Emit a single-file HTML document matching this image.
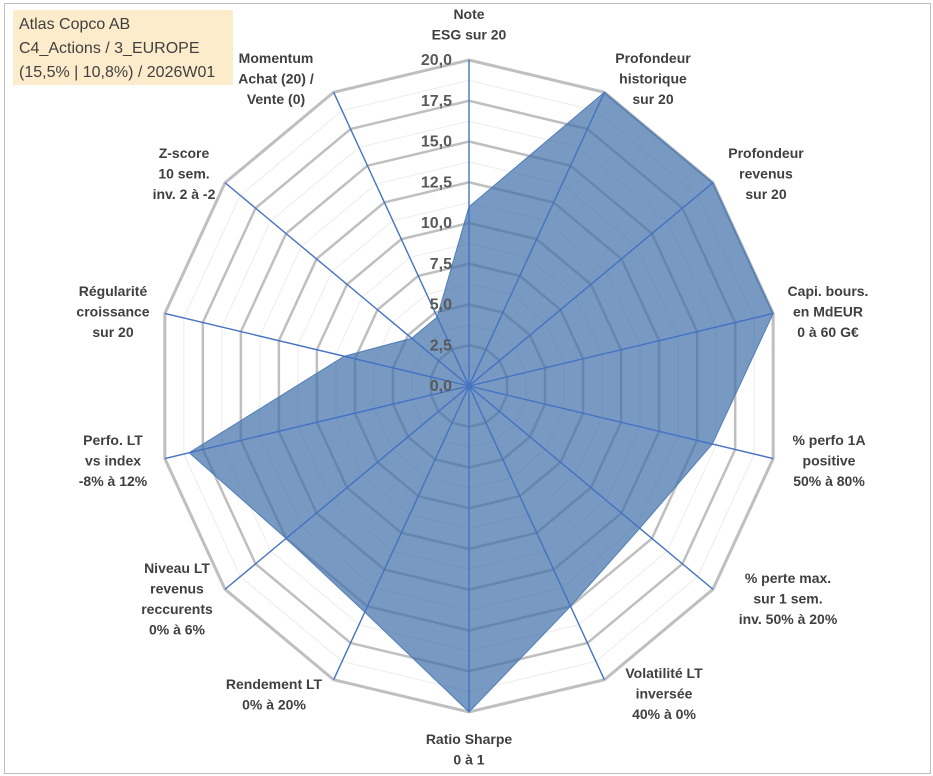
<!DOCTYPE html>
<html><head><meta charset="utf-8"><style>
html,body{margin:0;padding:0;background:#fff;}
#wrap{position:relative;width:933px;height:776px;overflow:hidden;font-family:"Liberation Sans",sans-serif;}
#frame{position:absolute;left:4px;top:3px;width:927px;height:771px;border:1px solid #bfbfbf;box-sizing:border-box;}
#title{position:absolute;left:13px;top:10px;width:220px;height:75px;background:#fdeccb;color:#404040;font-size:16px;line-height:24px;padding:3px 0 0 6px;box-sizing:border-box;white-space:nowrap;}
svg{position:absolute;left:0;top:0;}
</style></head><body>
<div id="wrap">
<div id="frame"></div>
<svg id="chart" width="933" height="776"></svg>
<div id="title">Atlas Copco AB<br>C4_Actions / 3_EUROPE<br>(15,5% | 10,8%) / 2026W01</div>
</div>
<script>
const categories = [
 ["Note","ESG sur 20"],["Profondeur","historique","sur 20"],["Profondeur","revenus","sur 20"],
 ["Capi. bours.","en MdEUR","0 à 60 G€"],["% perfo 1A","positive","50% à 80%"],
 ["% perte max.","sur 1 sem.","inv. 50% à 20%"],["Volatilité LT","inversée","40% à 0%"],
 ["Ratio Sharpe","0 à 1"],["Rendement LT","0% à 20%"],["Niveau LT","revenus","reccurents","0% à 6%"],
 ["Perfo. LT","vs index","-8% à 12%"],["Régularité","croissance","sur 20"],
 ["Z-score","10 sem.","inv. 2 à -2"],["Momentum","Achat (20) /","Vente (0)"]
];
const values = [11, 20, 20, 20, 16, 14, 15, 20, 15.4, 15, 18.4, 8.2, 4.7, 4.7];
const tickValues = [0, 2.5, 5, 7.5, 10, 12.5, 15, 17.5, 20];
const tickLabels = ["0,0","2,5","5,0","7,5","10,0","12,5","15,0","17,5","20,0"];
const maxVal = 20;
const cx = 469, cy = 386, rx = 312, ry = 326;
const labelPos = [[469,14],[653,58],[766,153],[828,291],[829,440],[788,578],[664,673],[469,739],[274,684],[177,568],[113,440],[113,291],[184,153],[276,58]];
const svg = document.getElementById('chart');
const NS = 'http://www.w3.org/2000/svg';
const n = categories.length;
function pt(i, v){const a = 2*Math.PI*i/n; const t = v/maxVal; return [cx + rx*t*Math.sin(a), cy - ry*t*Math.cos(a)];}
function poly(v){let s=[];for(let i=0;i<n;i++){s.push(pt(i,v).join(','));}return s.join(' ');}
function mk(tag, attrs){const e=document.createElementNS(NS,tag);for(const k in attrs)e.setAttribute(k,attrs[k]);svg.appendChild(e);return e;}
// minor rings
for(let k=0;k<tickValues.length-1;k++){
 const v=(tickValues[k]+tickValues[k+1])/2;
 const e=mk('polygon',{points:poly(v),fill:'none',stroke:'#ececec','stroke-width':1});
 
 
}
// major rings
tickValues.forEach((v,k)=>{ if(v===0) return;
 const e=mk('polygon',{points:poly(v),fill:'none',stroke:'#bfbfbf','stroke-width':v===maxVal?3:2.5});
 
 
});
// series
let sp=[];values.forEach((v,i)=>sp.push(pt(i,v).join(',')));
const area=mk('polygon',{points:sp.join(' '),fill:'#3e6ea8','fill-opacity':0.7,stroke:'#4f7fb8','stroke-width':1});


// spokes
for(let i=0;i<n;i++){const p=pt(i,maxVal);
 const e=mk('line',{x1:cx,y1:cy,x2:p[0],y2:p[1],stroke:'#4472c4','stroke-width':1.4});
 
 
}
// tick labels
tickValues.forEach((v,k)=>{const p=pt(0,v);
 const e=mk('text',{x:452,y:p[1]+1,'text-anchor':'end','dominant-baseline':'middle','font-size':16,'font-weight':'bold',fill:'#595959','font-family':'Liberation Sans, sans-serif'});
 e.textContent=tickLabels[k];
 
 
});
// category labels
categories.forEach((lines,i)=>{const [x,y]=labelPos[i];
 const t=mk('text',{x:x,'text-anchor':'middle','font-size':14,'font-weight':'bold',fill:'#404040','font-family':'Liberation Sans, sans-serif'});
 
 
 lines.forEach((l,j)=>{const ts=document.createElementNS(NS,'tspan');ts.setAttribute('x',x);ts.setAttribute('y',y+5+j*20.5);ts.textContent=l;t.appendChild(ts);});
});
</script>
</body></html>
